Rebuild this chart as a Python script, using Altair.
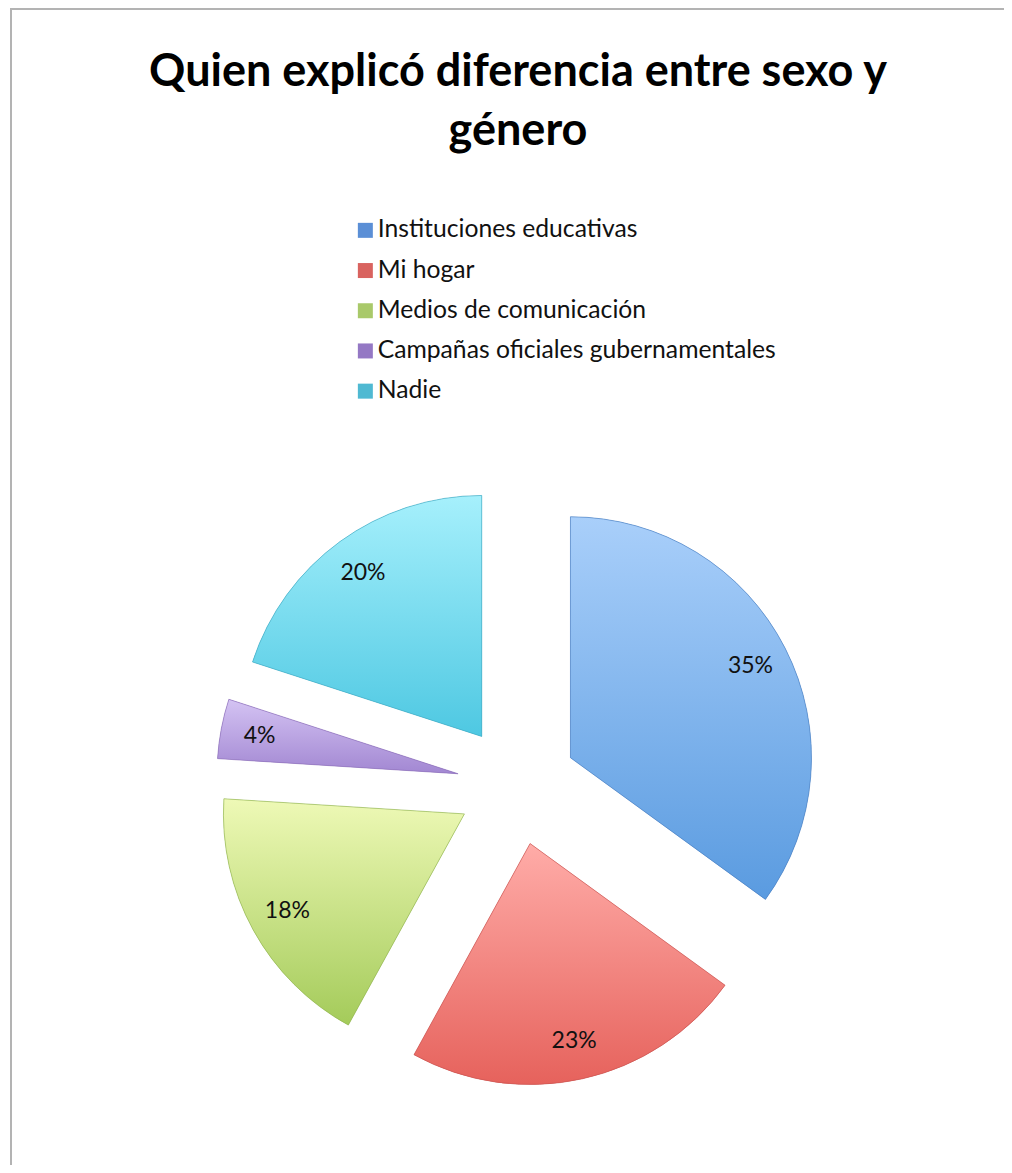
import altair as alt
import pandas as pd

# ---- data ----
categories = ["Instituciones educativas", "Mi hogar", "Medios de comunicación",
              "Campañas oficiales gubernamentales", "Nadie"]
values = [35, 23, 18, 4, 20]

# ---- style ----
legend_colors = ["#5b8fd6", "#d9635f", "#a9c96a", "#9478c4", "#4fb9d2"]
grad_top = ["#a9cffa", "#ffaca8", "#eef9b6", "#d4c3f3", "#a6f0fc"]
grad_bottom = ["#5a9be0", "#e6625c", "#a4cb5a", "#a287d2", "#4ec8e2"]
edge_colors = ["#4a7fc0", "#c85450", "#8fb24e", "#8a6cb8", "#3ea8c2"]

df = pd.DataFrame({"category": categories, "value": values,
                   "order": list(range(len(categories)))})

W, H = 996, 997
TOP = 160
CX, CY = 509, 617       # pie centre (view coordinates)
R = 241                 # pie radius
EXPLODE = 60            # slice explosion distance
LABEL_R = 262           # label distance from centre


def base():
    return (alt.Chart(df)
            .transform_joinaggregate(total="sum(value)")
            .transform_window(cum="sum(value)", sort=[alt.SortField("order", order="ascending")])
            .transform_calculate(
                a0="2*PI*(datum.cum - datum.value)/datum.total",
                a1="2*PI*datum.cum/datum.total")
            .transform_calculate(mid="(datum.a0 + datum.a1)/2")
            .transform_calculate(
                cx=f"{CX} + {EXPLODE}*sin(datum.mid)",
                cy=f"{CY} - {EXPLODE}*cos(datum.mid)",
                lx=f"{CX} + {LABEL_R}*sin(datum.mid)",
                ly=f"{CY} - {LABEL_R}*cos(datum.mid)",
                label="datum.value + '%'"))


arc_enc = dict(
    x=alt.X("cx:Q", scale=None, axis=None),
    y=alt.Y("cy:Q", scale=None, axis=None),
    theta=alt.Theta("a0:Q", scale=None),
    theta2=alt.Theta2("a1:Q"),
)

border = alt.Chart(alt.Data(values=[{}])).mark_rect(
    fillOpacity=0, stroke="#b3b3b3", strokeWidth=2
).encode(x=alt.value(3), x2=alt.value(1040), y=alt.value(-159), y2=alt.value(1100))

legend_layer = base().mark_arc(radius=R).encode(
    color=alt.Color("category:N",
                    scale=alt.Scale(domain=categories, range=legend_colors),
                    legend=alt.Legend(orient="none", legendX=345, legendY=50, title=None,
                                      symbolType="square", symbolSize=225,
                                      symbolStrokeWidth=0, labelFont="Lato",
                                      labelFontSize=24.7, labelColor="#111111",
                                      labelOffset=0, rowPadding=14.2, labelLimit=700)),
    **arc_enc)

slices = []
for i, cat in enumerate(categories):
    grad = alt.LinearGradient(
        gradient="linear", x1=0, x2=0, y1=0, y2=1,
        stops=[alt.GradientStop(color=grad_top[i], offset=0),
               alt.GradientStop(color=grad_bottom[i], offset=1)])
    slices.append(
        base().transform_filter(alt.datum.category == cat)
        .mark_arc(radius=R, fill=grad, stroke=edge_colors[i], strokeWidth=1, strokeOpacity=0.6)
        .encode(**arc_enc))

labels = base().mark_text(font="Lato", fontSize=23, color="#111111").encode(
    x=alt.X("lx:Q", scale=None, axis=None),
    y=alt.Y("ly:Q", scale=None, axis=None),
    text="label:N")

chart = alt.layer(border, legend_layer, *slices, labels).properties(
    width=W, height=H,
    padding={"left": 0, "top": TOP, "right": 0, "bottom": 0},
    autosize=alt.AutoSizeParams(type="none"),
    title=alt.TitleParams(text=["Quien explicó diferencia entre sexo y", "género"],
                          font="Lato", fontSize=45, fontWeight="bold", lineHeight=59,
                          anchor="middle", offset=17, dx=12, dy=163, color="#000000"),
).configure_view(stroke=None)

chart.save("out.html", embed_options={"renderer": "svg", "actions": False})
